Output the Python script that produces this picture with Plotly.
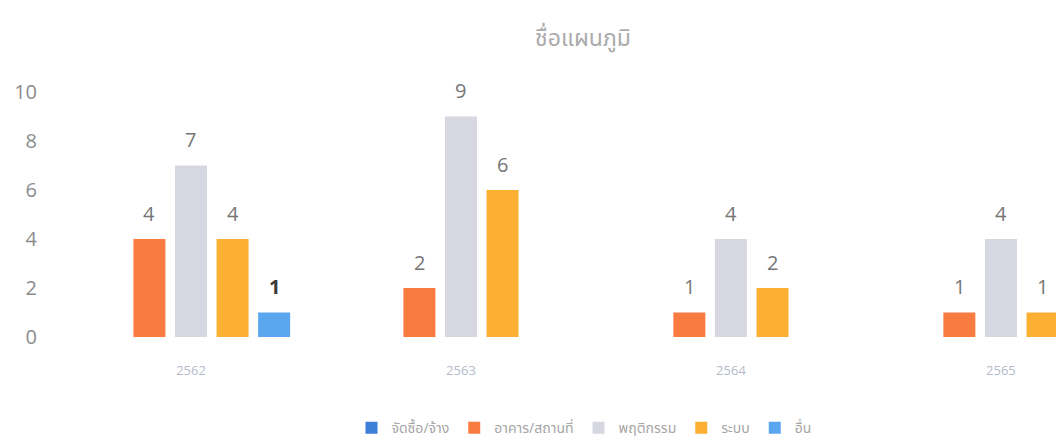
import plotly.graph_objects as go

# Chart data
years = ["2562", "2563", "2564", "2565"]
series_names = ["จัดซื้อ/จ้าง", "อาคาร/สถานที่", "พฤติกรรม", "ระบบ", "อื่น"]
procurement = [None, None, None, None]
building = [4, 2, 1, 1]
behavior = [7, 9, 4, 4]
system = [4, 6, 2, 1]
other = [1, None, None, None]
y_ticks = [0, 2, 4, 6, 8, 10]

series_values = [procurement, building, behavior, system, other]
colors = ["#3d7fd9", "#fa7b40", "#d6d7e1", "#fbb033", "#5aa7ef"]

BARGAP = 0.23
n_series = len(series_names)
slot = (1 - BARGAP) / n_series
xs = list(range(len(years)))

fig = go.Figure()
for name, vals, col in zip(series_names, series_values, colors):
    fig.add_trace(go.Bar(
        x=xs, y=vals, name=name,
        marker=dict(color=col, line=dict(width=0)),
        hoverinfo="skip",
    ))

# value labels above each bar
annotations = []
for k, vals in enumerate(series_values):
    for i, v in enumerate(vals):
        if v is None:
            continue
        bold = series_names[k] == "อื่น"
        annotations.append(dict(
            x=i + (k - (n_series - 1) / 2) * slot, y=v,
            xref="x", yref="y", yshift=26, showarrow=False,
            text=f"<b>{v}</b>" if bold else str(v),
            font=dict(size=20, color="#3a3a3a" if bold else "#767676",
                      family="Open Sans, Noto Sans, sans-serif"),
        ))

fig.update_layout(
    width=1056, height=438,
    margin=dict(l=56, r=0, t=92, b=101, autoexpand=False),
    paper_bgcolor="white", plot_bgcolor="white",
    barmode="group", bargap=BARGAP, bargroupgap=0.23,
    title=dict(
        text="ชื่อแผนภูมิ", x=583 / 1056, y=1 - 38 / 438,
        xref="container", yref="container", xanchor="center", yanchor="middle",
        font=dict(size=23, color="#ababab", family="Noto Sans Thai, Noto Sans, sans-serif"),
    ),
    showlegend=True,
    legend=dict(
        orientation="h", x=(584 - 56) / 1000, xref="paper", xanchor="center",
        y=-0.372, yanchor="middle",
        font=dict(size=14, color="#a6a6a6", family="Noto Sans Thai, Noto Sans, sans-serif"),
        itemwidth=30, traceorder="normal",
    ),
    annotations=annotations,
    font=dict(family="Open Sans, Noto Sans, sans-serif"),
)
fig.update_xaxes(
    range=[-0.5, 3.204], autorange=False, tickvals=xs, ticktext=years,
    showgrid=False, zeroline=False, showline=False, ticks="",
    tickfont=dict(size=13, color="#b6bacb"), ticklabelstandoff=24,
)
fig.update_yaxes(
    range=[0, 10], autorange=False, tickvals=y_ticks,
    showgrid=False, zeroline=False, showline=False, ticks="",
    tickfont=dict(size=20, color="#8c8c8c"), ticklabelstandoff=18,
)

fig.write_html("out.html")
